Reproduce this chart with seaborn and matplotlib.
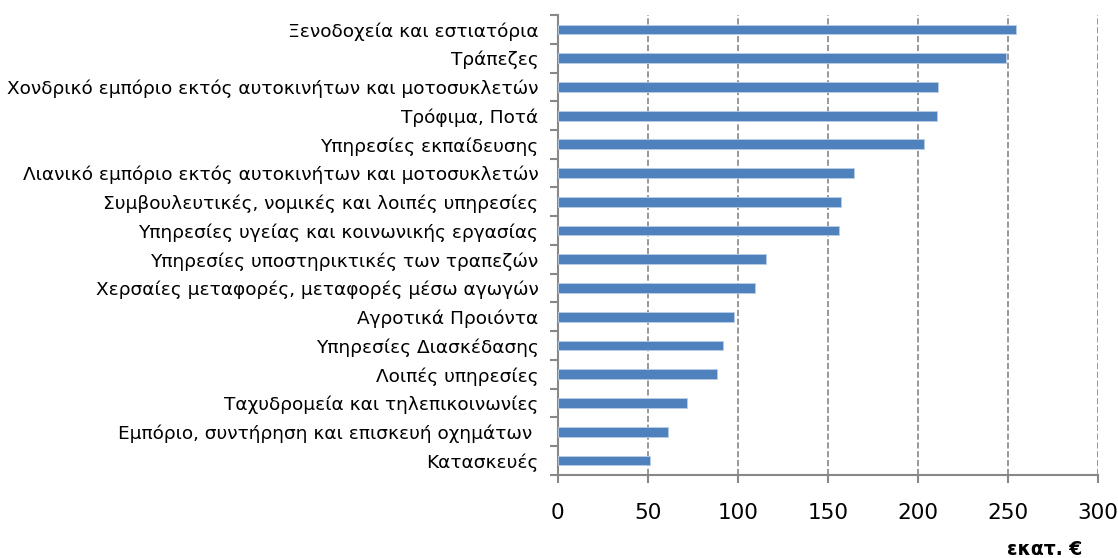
import matplotlib
matplotlib.use("Agg")
import matplotlib.pyplot as plt
import seaborn as sns
import pandas as pd
import numpy as np

# categories (top to bottom) and values in million euro
categories = [
    "Ξενοδοχεία και εστιατόρια",
    "Τράπεζες",
    "Χονδρικό εμπόριο εκτός αυτοκινήτων και μοτοσυκλετών",
    "Τρόφιμα, Ποτά",
    "Υπηρεσίες εκπαίδευσης",
    "Λιανικό εμπόριο εκτός αυτοκινήτων και μοτοσυκλετών",
    "Συμβουλευτικές, νομικές και λοιπές υπηρεσίες",
    "Υπηρεσίες υγείας και κοινωνικής εργασίας",
    "Υπηρεσίες υποστηρικτικές των τραπεζών",
    "Χερσαίες μεταφορές, μεταφορές μέσω αγωγών",
    "Αγροτικά Προιόντα",
    "Υπηρεσίες Διασκέδασης",
    "Λοιπές υπηρεσίες",
    "Ταχυδρομεία και τηλεπικοινωνίες",
    "Εμπόριο, συντήρηση και επισκευή οχημάτων ",
    "Κατασκευές",
]
values = [254.7, 249.1, 211.2, 210.8, 203.4, 164.4, 157.2, 156.0,
          115.5, 109.4, 97.7, 91.7, 88.2, 71.8, 61.4, 50.9]
x_ticks = [0, 50, 100, 150, 200, 250, 300]

df = pd.DataFrame({"cat": categories, "val": values})

sns.set_style("white")
plt.rcParams["font.family"] = ["DejaVu Sans"]

fig = plt.figure(figsize=(11.18, 5.58), dpi=100)
ax = fig.add_axes([0.499, 0.149, 0.483, 0.824])

sns.barplot(data=df, x="val", y="cat", orient="h", color="#4F81BD",
            width=0.34, saturation=1, ax=ax, zorder=3,
            edgecolor="#B9CDE5", linewidth=0.6)

ax.set_xlim(0, 300)
ax.set_ylim(len(categories) - 0.5, -0.5)
ax.set_xticks(x_ticks)
ax.set_xticklabels([str(t) for t in x_ticks], fontsize=15.5, color="black")
ax.tick_params(axis="x", bottom=True, length=6, color="#888888", width=1.5,
               pad=14)

# category labels, ticks at the category boundaries
ax.tick_params(axis="y", which="major", length=0, labelsize=13.3,
               labelcolor="black", pad=14)
ax.set_yticks(np.arange(-0.5, len(categories), 1), minor=True)
ax.tick_params(axis="y", which="minor", left=True, length=6,
               color="#888888", width=1.5)

ax.xaxis.grid(True, linestyle="--", color="#888888", linewidth=1.2, zorder=0)
ax.yaxis.grid(False)
for s in ["top", "right"]:
    ax.spines[s].set_visible(False)
for s in ["left", "bottom"]:
    ax.spines[s].set_color("#888888")
    ax.spines[s].set_linewidth(1.5)

ax.set_xlabel("")
ax.set_ylabel("")
fig.text(0.968, 0.016, "εκατ. €", ha="right", va="center",
         fontsize=13.5, fontweight="bold", color="black")

fig.savefig("out.png", dpi=100)
